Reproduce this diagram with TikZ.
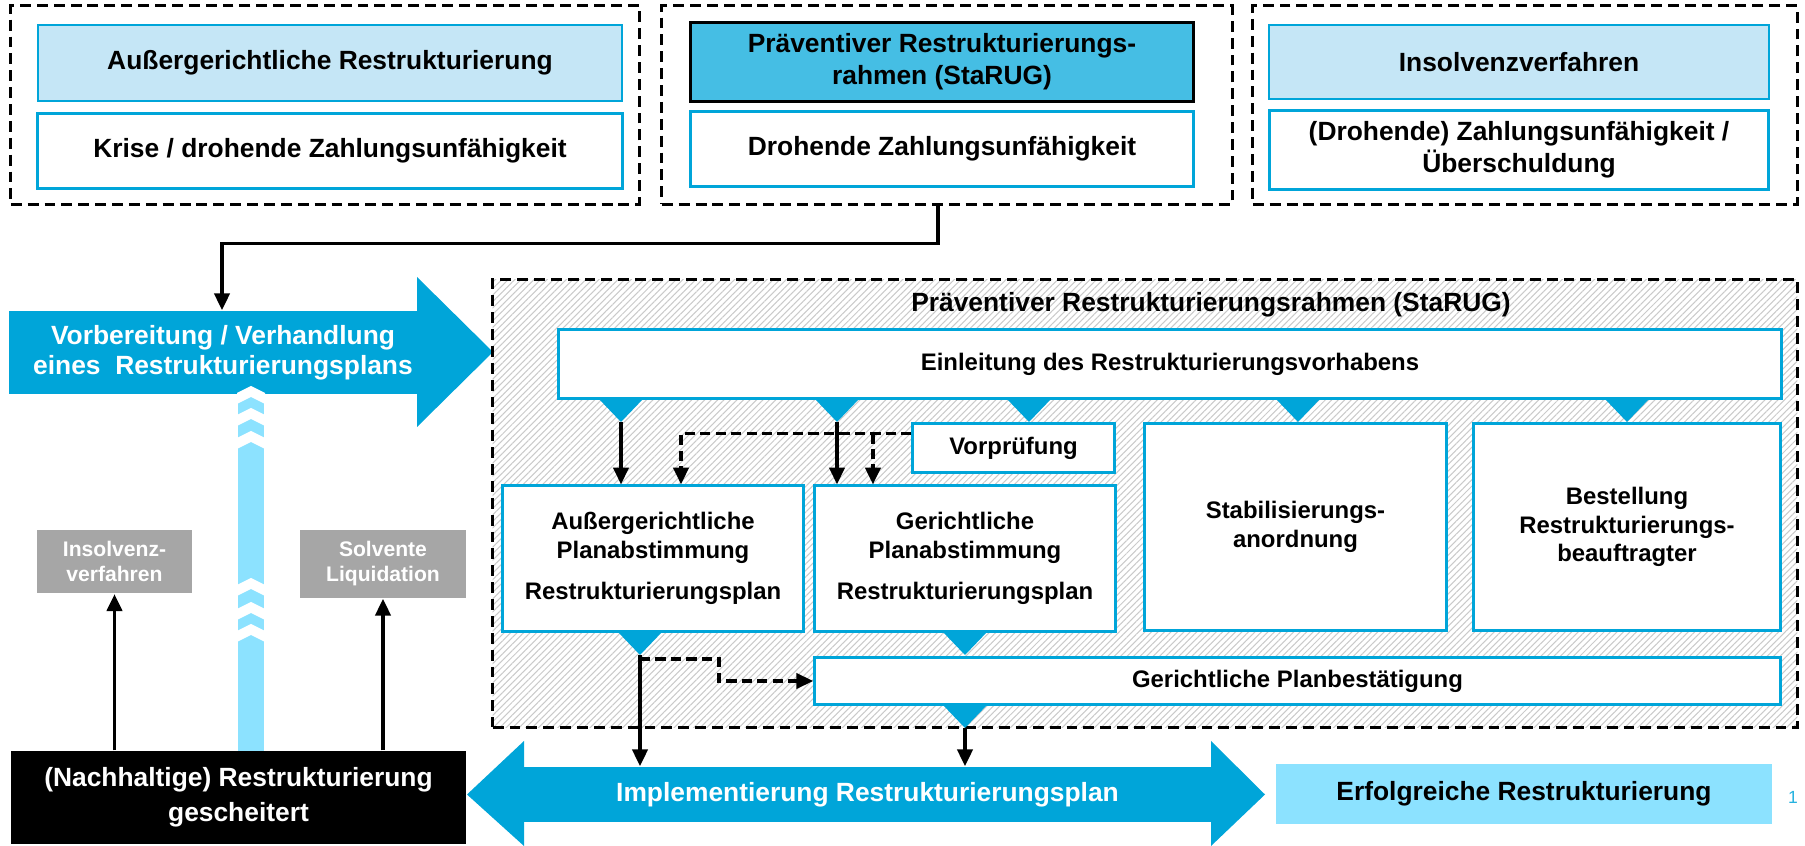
\documentclass[tikz,border=0pt]{standalone}
\usepackage{fontspec}
\setmainfont{Liberation Sans}
\usepackage{tikz}
\usetikzlibrary{arrows.meta, positioning, calc, patterns.meta}
\definecolor{rsblue}{HTML}{00A5D9}
\definecolor{rslight}{HTML}{C5E6F6}
\definecolor{rsmid}{HTML}{45BEE4}
\definecolor{rscyan}{HTML}{8CE2FF}
\definecolor{rsgray}{HTML}{A6A6A6}
\definecolor{rshatch}{HTML}{CACACA}

\begin{document}
\begin{tikzpicture}[
    x=0.01cm, y=-0.01cm,
    waybox/.style={rectangle, draw=black, line width=0.85pt, dash pattern=on 3.1pt off 1.7pt},
    hdrbox/.style={rectangle, draw=rsblue, line width=0.6pt, fill=rslight, font=\fontsize{7.5pt}{9pt}\selectfont\bfseries, align=center},
    condbox/.style={rectangle, draw=rsblue, line width=0.85pt, fill=white, font=\fontsize{7.5pt}{9pt}\selectfont\bfseries, align=center},
    stepbox/.style={rectangle, draw=rsblue, line width=0.85pt, fill=white, font=\fontsize{6.8pt}{8.2pt}\selectfont\bfseries, align=center},
    outcome/.style={rectangle, fill=rsgray, text=white, font=\fontsize{6pt}{7.1pt}\selectfont\bfseries, align=center},
    bigtext/.style={font=\fontsize{7.5pt}{8.6pt}\selectfont\bfseries, align=center},
    arrow/.style={-{Triangle[length=4.8pt,width=4.3pt]}, line width=1.05pt},
    darrow/.style={arrow, dash pattern=on 2.9pt off 1.5pt},
    dtri/.pic={\fill[rsblue] (-23,0) -- (23,0) -- (0,24) -- cycle; \coordinate (-tip) at (0,24);}
]
\useasboundingbox (0,0) rectangle (1805,846);

% Three ways out of the crisis
\node[waybox, minimum width=6.28cm, minimum height=1.98cm] (f1) at (325,105) {};
\node[waybox, minimum width=5.70cm, minimum height=1.98cm] (f2) at (947,105) {};
\node[waybox, minimum width=5.44cm, minimum height=1.98cm] (f3) at (1525,105) {};

\node[hdrbox, minimum width=5.84cm, minimum height=0.76cm] (h1) at (330,63) {Außergerichtliche Restrukturierung};
\node[condbox, minimum width=5.84cm, minimum height=0.74cm] (c1) at (330,151) {Krise / drohende Zahlungsunfähigkeit};
\node[hdrbox, fill=rsmid, draw=black, line width=0.85pt, minimum width=5.02cm, minimum height=0.76cm] (h2) at (942,62) {Präventiver Restrukturierungs-\\rahmen (StaRUG)};
\node[condbox, minimum width=5.02cm, minimum height=0.74cm] (c2) at (942,149) {Drohende Zahlungsunfähigkeit};
\node[hdrbox, minimum width=4.99cm, minimum height=0.74cm] (h3) at (1519,62) {Insolvenzverfahren};
\node[condbox, minimum width=4.99cm, minimum height=0.74cm] (c3) at (1519,150) {(Drohende) Zahlungsunfähigkeit /\\Überschuldung};

% Preparation arrow
\node[fill=rsblue, minimum width=4.09cm, minimum height=0.83cm] (vorb) at (214,352.5) {};
\fill[rsblue] (417,277) -- (493,352) -- (417,427) -- cycle;
\node[bigtext, text=white] (vorbtext) at (223,352.5) {Vorbereitung / Verhandlung\\eines\ \ Restrukturierungsplans};
\draw[arrow] ([xshift=-0.09cm]f2.south) -- ++(0,38) -| ([xshift=0.08cm]vorb.north);

% Chevron bar going back up
\fill[rscyan] (238,393) rectangle (264,751);
\foreach \cy in {386,408,431,578,602,624}
    \fill[white] (237,\cy+7) -- (251,\cy) -- (265,\cy+7) -- (265,\cy+18) -- (251,\cy+11) -- (237,\cy+18) -- cycle;

% Failure and its outcomes
\node[outcome, minimum width=1.55cm, minimum height=0.55cm] (gins) at (114.5,561.5) {Insolvenz-\\verfahren};
\node[outcome, minimum width=1.66cm, minimum height=0.54cm] (gsol) at (383,564) {Solvente\\Liquidation};
\node[fill=black, text=white, minimum width=4.55cm, minimum height=0.93cm, font=\fontsize{7.5pt}{10pt}\selectfont\bfseries, align=center] (fail) at (238.5,797.5) {(Nachhaltige) Restrukturierung\\gescheitert};
\draw[arrow] (gins.south |- fail.north) -- (gins.south);
\draw[arrow] (gsol.south |- fail.north) -- (gsol.south);

% StaRUG frame
\node[waybox, pattern={Lines[angle=45,distance=1.3pt,line width=0.3pt]}, pattern color=rshatch, minimum width=13.04cm, minimum height=4.47cm] (rahmen) at (1145,503.5) {};
\node[font=\fontsize{7.5pt}{9pt}\selectfont\bfseries] (rtitle) at (1211,305) {Präventiver Restrukturierungsrahmen (StaRUG)};

\node[stepbox, minimum width=12.22cm, minimum height=0.68cm] (einl) at (1170,364) {Einleitung des Restrukturierungsvorhabens};
\foreach \tx/\tn in {621/t1, 837/t2, 1029/t3, 1298/t4, 1627/t5}
    \pic (\tn) at (\tx,398) {dtri};

\node[stepbox, minimum width=2.01cm, minimum height=0.48cm] (vorpr) at (1013.5,448) {Vorprüfung};
\node[stepbox, minimum width=3.00cm, minimum height=1.45cm] (ausplan) at (653,558.5) {Außergerichtliche\\Planabstimmung\\[3.4pt]Restrukturierungsplan};
\node[stepbox, minimum width=3.00cm, minimum height=1.45cm] (gerplan) at (965,558.5) {Gerichtliche\\Planabstimmung\\[3.4pt]Restrukturierungsplan};
\node[stepbox, minimum width=3.01cm, minimum height=2.06cm] (stab) at (1295.5,527) {Stabilisierungs-\\anordnung};
\node[stepbox, minimum width=3.06cm, minimum height=2.06cm] (best) at (1627,527) {Bestellung\\Restrukturierungs-\\beauftragter};
\pic (t6) at (640,631) {dtri};
\pic (t7) at (965,631) {dtri};
\node[stepbox, minimum width=9.65cm, minimum height=0.46cm] (planbest) at (1297.5,681) {Gerichtliche Planbestätigung};
\pic (t8) at (965,704) {dtri};

\draw[arrow] (t1-tip) -- (t1-tip |- ausplan.north);
\draw[arrow] (t2-tip) -- (t2-tip |- gerplan.north);
\coordinate (vp) at ([yshift=-0.11cm]vorpr.north west);
\coordinate (gp) at ([xshift=-0.92cm]gerplan.north);
\draw[darrow] (vp) -| ([xshift=0.28cm]ausplan.north);
\draw[darrow] (vp -| gp) -- (gp);
\draw[darrow] ([yshift=-0.04cm]t6-tip) -| ([xshift=-0.94cm]planbest.west) -- (planbest.west);

% Implementation
\node[bigtext, fill=rsblue, text=white, minimum width=6.91cm, minimum height=0.55cm] (impl) at (867.5,794.5) {Implementierung Restrukturierungsplan};
\fill[rsblue] (524,741) -- (467,794.5) -- (524,846) -- cycle;
\fill[rsblue] (1211,741) -- (1265,794.5) -- (1211,846) -- cycle;
\draw[arrow] (t6-tip) -- (t6-tip |- impl.north);
\draw[arrow] (t8-tip) -- (t8-tip |- impl.north);

\node[bigtext, fill=rscyan, minimum width=4.96cm, minimum height=0.60cm] (erfolg) at (1524,794) {Erfolgreiche Restrukturierung};
\node[text=rsblue!85, font=\fontsize{5pt}{6pt}\selectfont] (pnum) at (1793,797) {1};

\end{tikzpicture}
\end{document}
